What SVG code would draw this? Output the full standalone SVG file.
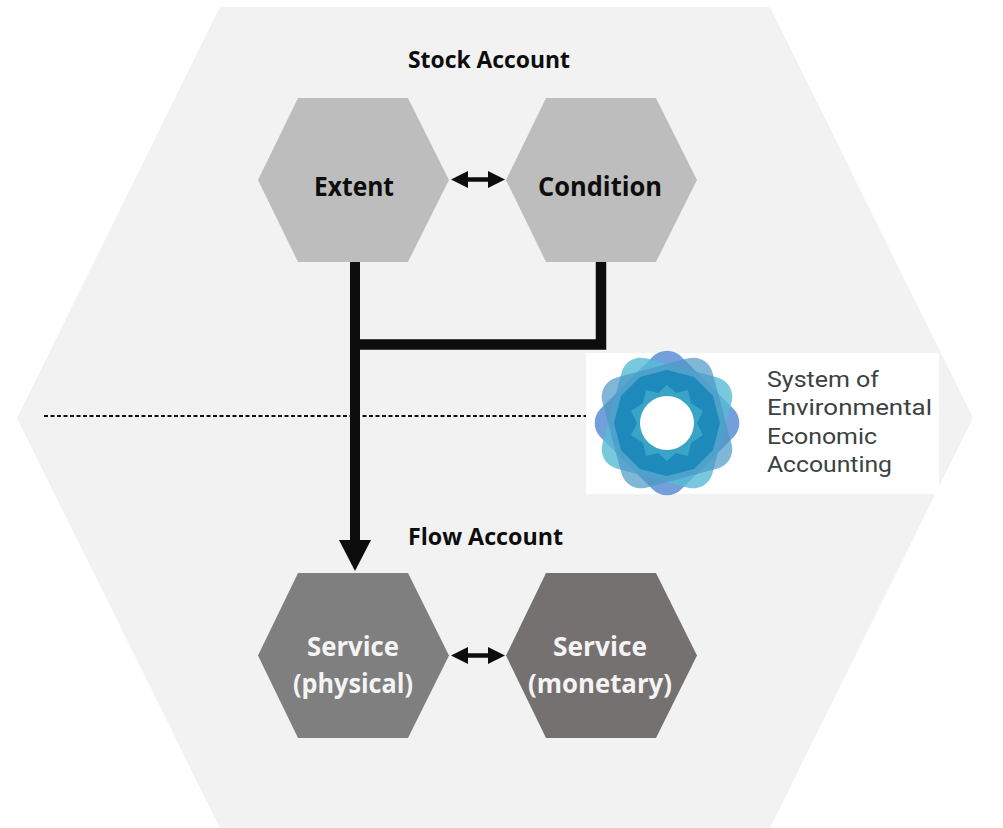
<svg xmlns="http://www.w3.org/2000/svg" width="1003" height="828" viewBox="0 0 1003 828">
<style>
text{font-family:"Open Sans","Liberation Sans",sans-serif;font-weight:700;text-anchor:middle}
.node{font-size:26px;fill:#0d0d0d}
.light{font-size:26px;fill:#f4f4f4}
.head{font-size:22.5px;fill:#0d0d0d}
.logo{font-family:Roboto,"Open Sans",sans-serif;font-size:21.500px;font-weight:400;fill:#3a4242;text-anchor:start}
.wire{fill:none;stroke:#0d0d0d}
</style>
<defs>
<marker id="big" markerUnits="userSpaceOnUse" markerWidth="32" markerHeight="32" refX="1" refY="16" orient="auto"><path d="M0 0L31 16L0 32Z" fill="#0d0d0d"/></marker>
<marker id="small" markerUnits="userSpaceOnUse" markerWidth="18" markerHeight="17" refX="1" refY="8.500" orient="auto-start-reverse"><path d="M0 0L17 8.500L0 17Z" fill="#0d0d0d"/></marker>
</defs>
<rect width="1003" height="828" fill="#fff"/>
<polygon id="background-hexagon" points="220,7 770,7 973,418 770,828 220,828 17,418" fill="#f2f2f2"/>
<g id="section-labels">
<text class="head" x="489" y="68" textLength="162" lengthAdjust="spacingAndGlyphs">Stock Account</text>
<text class="head" x="485.500" y="545" textLength="155" lengthAdjust="spacingAndGlyphs">Flow Account</text>
</g>
<g id="divider"><line x1="44" y1="416" x2="590" y2="416" stroke="#111" stroke-width="1.800" stroke-dasharray="4 2.500"/></g>
<g id="node-extent">
<polygon points="298,98 408,98 449,180 408,262 298,262 258,180" fill="#bdbdbd"/>
<text class="node" x="354" y="196" textLength="80" lengthAdjust="spacingAndGlyphs">Extent</text>
</g>
<g id="node-condition">
<polygon points="546,98 656,98 697,180 656,262 546,262 506,180" fill="#bdbdbd"/>
<text class="node" x="600" y="196" textLength="124" lengthAdjust="spacingAndGlyphs">Condition</text>
</g>
<g id="node-service-physical">
<polygon points="298,573 408,573 449,655.500 408,738 298,738 258,655.500" fill="#7f7f7f"/>
<text class="light" x="353" y="656" textLength="92" lengthAdjust="spacingAndGlyphs">Service</text>
<text class="light" x="353" y="693" textLength="120" lengthAdjust="spacingAndGlyphs">(physical)</text>
</g>
<g id="node-service-monetary">
<polygon points="546,573 656,573 697,655.500 656,738 546,738 506,655.500" fill="#767171"/>
<text class="light" x="600" y="656" textLength="94" lengthAdjust="spacingAndGlyphs">Service</text>
<text class="light" x="600" y="693" textLength="144" lengthAdjust="spacingAndGlyphs">(monetary)</text>
</g>
<g id="connectors">
<path class="wire" stroke-width="10" d="M355 262V541" marker-end="url(#big)"/>
<path class="wire" stroke-width="10.500" d="M355 344.500H601V262"/>
<path class="wire" stroke-width="4.500" d="M467 179.500H489" marker-start="url(#small)" marker-end="url(#small)"/>
<path class="wire" stroke-width="4.500" d="M467 655.500H489" marker-start="url(#small)" marker-end="url(#small)"/>
</g>
<g id="logo">
<rect x="586" y="353" width="353" height="141" fill="#fff"/>
<g transform="translate(667 423)">
<rect x="-57" y="-57" width="114" height="114" rx="20" fill="#5b8fd6" opacity=".85" transform="rotate(45)"/>
<rect x="-57" y="-57" width="114" height="114" rx="20" fill="#56bcd4" opacity=".8" transform="rotate(15)"/>
<rect x="-57" y="-57" width="114" height="114" rx="20" fill="#4a97c4" opacity=".7" transform="rotate(75)"/>
<polygon points="0,-53 27,-46 46,-27 53,0 46,27 27,46 0,53 -27,46 -46,27 -53,0 -46,-27 -27,-46" fill="#1585b8" opacity=".85"/>
<polygon points="0,-38 9,-30 21,-33 24,-20 36,-12 30,0 36,12 24,20 21,33 9,30 0,38 -9,30 -21,33 -24,20 -36,12 -30,0 -36,-12 -24,-20 -21,-33 -9,-30" fill="#3aa4c6"/>
<circle r="27" fill="#fff"/>
</g>
<text class="logo" x="767" y="387" textLength="112" lengthAdjust="spacingAndGlyphs">System of</text>
<text class="logo" x="767" y="415" textLength="165" lengthAdjust="spacingAndGlyphs">Environmental</text>
<text class="logo" x="767" y="444" textLength="110" lengthAdjust="spacingAndGlyphs">Economic</text>
<text class="logo" x="767" y="472" textLength="125" lengthAdjust="spacingAndGlyphs">Accounting</text>
</g>
</svg>
